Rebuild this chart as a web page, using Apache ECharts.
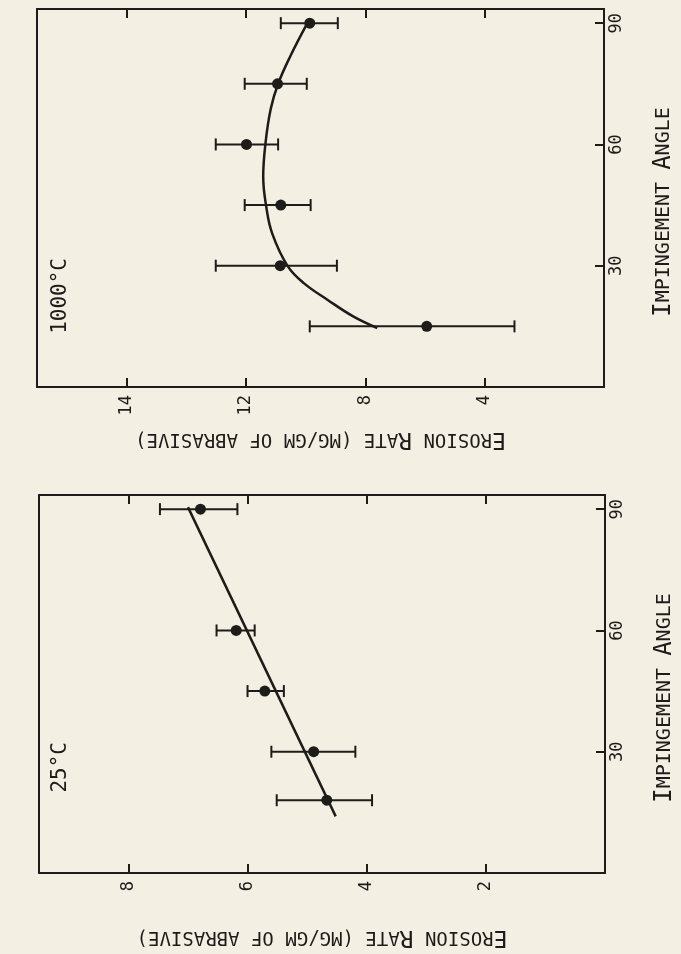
<!DOCTYPE html>
<html>
<head>
<meta charset="utf-8">
<script src="https://cdn.jsdelivr.net/npm/echarts@6/dist/echarts.min.js"></script>
<style>
  html, body { margin: 0; padding: 0; background: #f4efe3; }
  #chart { width: 681px; height: 954px; }
</style>
</head>
<body>
<div id="chart"></div>
<script>
// 1000°C panel (top)
var hotAngles = [15, 30, 45, 60, 75, 90];
var hotRate = [5.94, 10.85, 10.83, 11.98, 10.94, 9.86];
var hotLow = [3.0, 8.95, 9.83, 10.92, 9.96, 8.92];
var hotHigh = [9.86, 13.01, 12.04, 13.01, 12.04, 10.83];
var hotCurveAngles = [14.6, 17.4, 21.6, 25.7, 29.9, 38, 44.7, 52, 60.5, 68.7, 75, 82, 90];
var hotCurveRate = [7.6, 8.39, 9.27, 10.06, 10.6, 11.12, 11.32, 11.42, 11.34, 11.17, 10.92, 10.5, 9.94];
var hotTickValues = [4, 8, 12, 16];
var hotTickLabels = ['4', '8', '12', '14'];

// 25°C panel (bottom)
var coldAngles = [18, 30, 45, 60, 90];
var coldRate = [4.67, 4.89, 5.71, 6.19, 6.79];
var coldLow = [3.91, 4.19, 5.39, 5.88, 6.17];
var coldHigh = [5.51, 5.6, 6.0, 6.52, 7.47];
var coldFitAngles = [14, 90.5];
var coldFitRate = [4.52, 7.0];
var coldTickValues = [2, 4, 6, 8];
var coldTickLabels = ['2', '4', '6', '8'];

var angleTicks = [30, 60, 90];

var ink = '#1e1c1a';
var font = 'DejaVu Sans Mono';

var myChart = echarts.init(document.getElementById('chart'));

function zip(a, b) {
	return a.map(function (v, i) { return [v, b[i]]; });
}

function errData(rate, angle, low, high) {
	return rate.map(function (v, i) { return [v, angle[i], low[i], high[i]]; });
}

// horizontal error bar with end caps
function errRender(params, api) {
	var y = api.value(1);
	var a = api.coord([api.value(2), y]);
	var b = api.coord([api.value(3), y]);
	var cap = 6;
	var st = { stroke: ink, lineWidth: 2 };
	return {
		type: 'group',
		children: [
			{ type: 'line', shape: { x1: a[0], y1: a[1], x2: b[0], y2: b[1] }, style: st },
			{ type: 'line', shape: { x1: a[0], y1: a[1] - cap, x2: a[0], y2: a[1] + cap }, style: st },
			{ type: 'line', shape: { x1: b[0], y1: b[1] - cap, x2: b[0], y2: b[1] + cap }, style: st }
		]
	};
}

function labelFrom(values, labels) {
	return function (v) {
		var i = values.indexOf(v);
		return i >= 0 ? labels[i] : '';
	};
}

var rateRich = {
	b: { fontFamily: font, fontSize: 23, color: ink },
	s: { fontFamily: font, fontSize: 19, color: ink }
};
var angleRich = {
	b: { fontFamily: font, fontSize: 24, color: ink },
	s: { fontFamily: font, fontSize: 20, color: ink }
};

function rateAxis(grid, pos, max, interval, values, labels, gap) {
	var bottom = pos === 'bottom';
	return {
		type: 'value',
		gridIndex: grid,
		position: pos,
		inverse: true,
		min: 0,
		max: max,
		interval: interval,
		splitLine: { show: false },
		axisLine: { show: true, onZero: false, lineStyle: { color: ink, width: 2 } },
		axisTick: { show: true, inside: true, length: 9, lineStyle: { color: ink, width: 2 } },
		axisLabel: {
			show: bottom,
			rotate: 90,
			margin: 8,
			fontFamily: font,
			fontSize: 17,
			color: ink,
			formatter: labelFrom(values, labels)
		},
		name: bottom ? '{b|E}{s|ROSION }{b|R}{s|ATE (MG/GM OF ABRASIVE)}' : '',
		nameLocation: 'middle',
		nameRotate: 180,
		nameGap: gap,
		nameTextStyle: { rich: rateRich }
	};
}

function angleAxis(grid, pos) {
	var right = pos === 'right';
	return {
		type: 'value',
		gridIndex: grid,
		position: pos,
		min: 0,
		max: 93.5,
		interval: 30,
		splitLine: { show: false },
		axisLine: { show: true, onZero: false, lineStyle: { color: ink, width: 2 } },
		axisTick: { show: right, inside: true, length: 9, lineStyle: { color: ink, width: 2 } },
		axisLabel: {
			show: right,
			rotate: 90,
			margin: 4,
			fontFamily: font,
			fontSize: 17,
			color: ink,
			formatter: function (v) { return angleTicks.indexOf(v) >= 0 ? String(v) : ''; }
		},
		name: right ? '{b|I}{s|MPINGEMENT }{b|A}{s|NGLE}' : '',
		nameLocation: 'middle',
		nameRotate: 90,
		nameGap: 48,
		nameTextStyle: { rich: angleRich, padding: [0, 28, 0, 0] }
	};
}

var option = {
	backgroundColor: '#f4efe3',
	animation: false,
	grid: [
		{ left: 37, right: 77, top: 9, bottom: 567, containLabel: false, outerBoundsMode: 'none' },
		{ left: 39, right: 76, top: 495, bottom: 81, containLabel: false, outerBoundsMode: 'none' }
	],
	xAxis: [
		rateAxis(0, 'bottom', 19, 4, hotTickValues, hotTickLabels, 40),
		rateAxis(0, 'top', 19, 4, hotTickValues, hotTickLabels, 0),
		rateAxis(1, 'bottom', 9.5, 2, coldTickValues, coldTickLabels, 52),
		rateAxis(1, 'top', 9.5, 2, coldTickValues, coldTickLabels, 0)
	],
	yAxis: [
		angleAxis(0, 'right'),
		angleAxis(0, 'left'),
		angleAxis(1, 'right'),
		angleAxis(1, 'left')
	],
	graphic: [
		{
			type: 'text', left: 50, top: 258, rotation: Math.PI / 2,
			style: { text: '1000°C', fontFamily: font, fontSize: 21, fill: ink }
		},
		{
			type: 'text', left: 50, top: 742, rotation: Math.PI / 2,
			style: { text: '25°C', fontFamily: font, fontSize: 21, fill: ink }
		}
	],
	series: [
		{
			type: 'line', xAxisIndex: 0, yAxisIndex: 0,
			data: zip(hotCurveRate, hotCurveAngles),
			smooth: 0.4, showSymbol: false,
			lineStyle: { color: ink, width: 2.5 }
		},
		{
			type: 'custom', xAxisIndex: 0, yAxisIndex: 0,
			data: errData(hotRate, hotAngles, hotLow, hotHigh),
			encode: { x: 0, y: 1 },
			renderItem: errRender
		},
		{
			type: 'scatter', xAxisIndex: 0, yAxisIndex: 0,
			data: zip(hotRate, hotAngles),
			symbolSize: 11,
			itemStyle: { color: ink, opacity: 1 }
		},
		{
			type: 'line', xAxisIndex: 2, yAxisIndex: 2,
			data: zip(coldFitRate, coldFitAngles),
			showSymbol: false,
			lineStyle: { color: ink, width: 2.5 }
		},
		{
			type: 'custom', xAxisIndex: 2, yAxisIndex: 2,
			data: errData(coldRate, coldAngles, coldLow, coldHigh),
			encode: { x: 0, y: 1 },
			renderItem: errRender
		},
		{
			type: 'scatter', xAxisIndex: 2, yAxisIndex: 2,
			data: zip(coldRate, coldAngles),
			symbolSize: 11,
			itemStyle: { color: ink, opacity: 1 }
		}
	]
};

myChart.setOption(option);
</script>
</body>
</html>
